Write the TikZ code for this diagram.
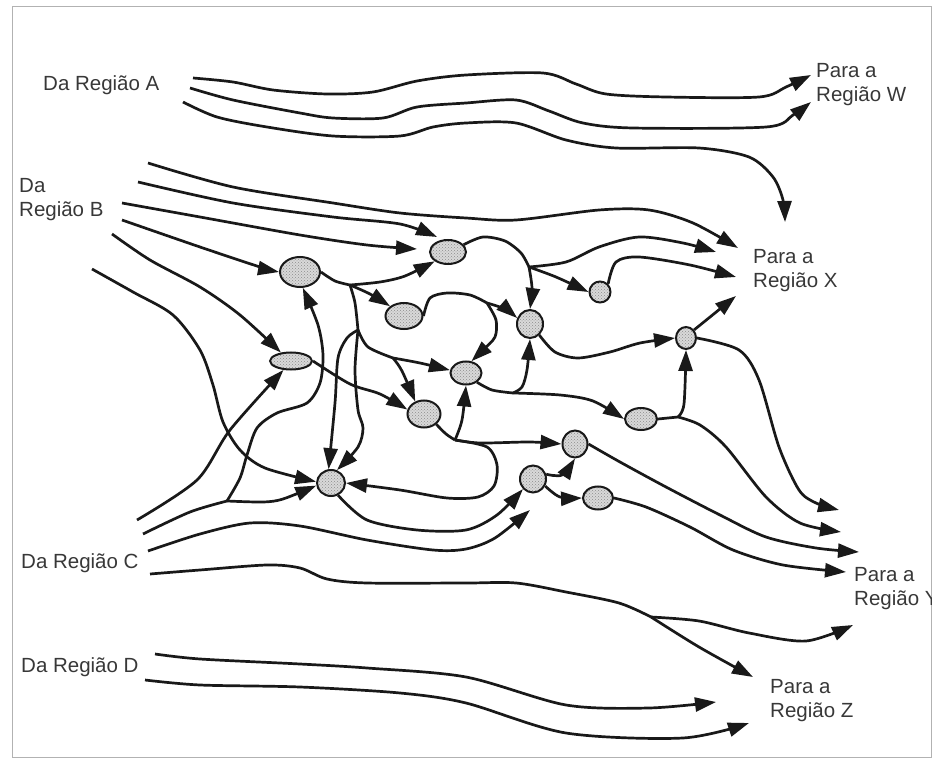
\documentclass[tikz,border=0pt]{standalone}
\usepackage{fontspec}
\setmainfont{Liberation Sans}
\usetikzlibrary{arrows.meta,shapes.geometric,patterns}
\begin{document}
\begin{tikzpicture}[x=1pt,y=-1pt,
  flow/.style={draw=black!90, line width=2.7pt, line join=round, -{Triangle[length=21pt,width=14pt]}},
  link/.style={draw=black!90, line width=2.7pt, line join=round},
  hub/.style={ellipse, draw=black!90, line width=2pt, inner sep=0pt,
    preaction={fill=gray!30}, pattern=crosshatch dots, pattern color=gray!90},
  lab/.style={font=\fontsize{20.5}{24}\selectfont, text=black!78, inner sep=0pt, align=left, anchor=west}]
\useasboundingbox (0,0) rectangle (932,759);
\draw[gray!60, line width=1pt] (12,7) rectangle (931,757);

% labels
\node[lab] (tA) at (43,85) {Da Região A};
\node[lab] (tB) at (19,200) {Da\\Região B};
\node[lab] (tC) at (21,563) {Da Região C};
\node[lab] (tD) at (21,667) {Da Região D};
\node[lab] (tW) at (816,85) {Para a\\Região W};
\node[lab] (tX) at (753,271) {Para a\\Região X};
\node[lab] (tY) at (854,589) {Para a\\Região Y};
\node[lab] (tZ) at (770,701) {Para a\\Região Z};

% hubs
\node[hub, minimum width=40pt, minimum height=30pt] (N1) at (300,272) {};
\node[hub, minimum width=36pt, minimum height=24pt] (N2) at (448,252) {};
\node[hub, minimum width=37pt, minimum height=26pt] (N3) at (404,316) {};
\node[hub, minimum width=42pt, minimum height=17pt] (N4) at (291,361) {};
\node[hub, minimum width=26pt, minimum height=28pt] (N5) at (530,324) {};
\node[hub, minimum width=21pt, minimum height=21pt] (N6) at (600,292) {};
\node[hub, minimum width=20pt, minimum height=22pt] (N7) at (686,338) {};
\node[hub, minimum width=31pt, minimum height=23pt] (N8) at (466,373) {};
\node[hub, minimum width=33pt, minimum height=27pt] (N9) at (424,414) {};
\node[hub, minimum width=32pt, minimum height=22pt] (N10) at (641,419) {};
\node[hub, minimum width=25pt, minimum height=27pt] (N11) at (575,444) {};
\node[hub, minimum width=26pt, minimum height=27pt] (N12) at (533,479) {};
\node[hub, minimum width=30pt, minimum height=23pt] (N13) at (598,498) {};
\node[hub, minimum width=28pt, minimum height=26pt] (N14) at (331,483) {};

% free ends and junctions
\coordinate (aS1) at (193,78); \coordinate (aS2) at (190,88); \coordinate (aS3) at (183,102);
\coordinate (wT1) at (811,75); \coordinate (wT2) at (811,102); \coordinate (xT0) at (785,222);
\coordinate (bS1) at (148,163); \coordinate (bS2) at (138,182); \coordinate (bS3) at (122,203);
\coordinate (bS4) at (122,220); \coordinate (bS5) at (112,234); \coordinate (bS6) at (92,269);
\coordinate (tB2) at (437,237); \coordinate (tB3) at (417,249);
\coordinate (xT1) at (738,248); \coordinate (xT2) at (716,252); \coordinate (xT3) at (736,277); \coordinate (xT4) at (736,296);
\coordinate (cS1) at (137,520); \coordinate (cS2) at (143,534); \coordinate (cS3) at (148,551); \coordinate (cS4) at (150,574);
\coordinate (tC3) at (530,510);
\coordinate (dS1) at (155,654); \coordinate (dS2) at (145,680);
\coordinate (yT1) at (839,510); \coordinate (yT2) at (841,532); \coordinate (yT3) at (859,552);
\coordinate (yT4) at (846,572); \coordinate (yT5) at (853,625);
\coordinate (zT1) at (716,702); \coordinate (zT2) at (749,723); \coordinate (zT3) at (753,677);
\coordinate (j1) at (350,285); \coordinate (j2) at (358,330); \coordinate (j3) at (393,358);
\coordinate (j4) at (529,267); \coordinate (j5) at (678,417); \coordinate (j6) at (513,393);
\coordinate (j7) at (487,303); \coordinate (j8) at (455,440); \coordinate (jC) at (227,501);
\coordinate (jY) at (651,617);

% region A
\draw[flow] plot[smooth] coordinates {(aS1) (233,82) (273,90) (327,94) (373,92) (417,81) (466,75) (543,73) (576,84) (606,94) (666,97) (759,97) (786,87) (wT1)};
\draw[flow] plot[smooth] coordinates {(aS2) (233,100) (300,113) (333,118) (383,118) (417,107) (466,103) (516,100) (549,111) (583,123) (633,128) (766,127) (793,115) (wT2)};
\draw[flow] plot[smooth] coordinates {(aS3) (217,117) (267,127) (333,136) (400,136) (433,127) (466,123) (516,123) (566,140) (616,148) (699,148) (749,157) (773,177) (783,200) (xT0)};

% region B
\draw[flow] plot[smooth] coordinates {(bS1) (233,187) (333,203) (400,213) (466,218) (516,220) (599,210) (649,210) (693,223) (xT1)};
\draw[flow] plot[smooth] coordinates {(bS2) (233,203) (333,217) (400,224) (tB2)};
\draw[flow] plot[smooth] coordinates {(bS3) (200,217) (300,235) (367,245) (tB3)};
\draw[flow] plot[smooth] coordinates {(bS4) (200,247) (260,267) (N1.west)};
\draw[flow] plot[smooth] coordinates {(bS5) (150,260) (200,287) (240,315) (N4.140)};
\draw[flow] plot[smooth] coordinates {(bS6) (133,292) (173,315) (200,350) (213,385) (223,422) (240,450) (265,468) (N14.175)};

% region C
\draw[flow] plot[smooth] coordinates {(cS1) (197,480) (230,430) (N4.230)};
\draw[link] plot[smooth] coordinates {(cS2) (190,512) (jC)};
\draw[flow] plot[smooth] coordinates {(jC) (263,502) (283,499) (N14.190)};
\draw[flow] plot[smooth] coordinates {(jC) (240,478) (247,455) (257,428) (277,413) (307,403) (320,383) (323,355) (318,325) (N1.280)};
\draw[flow] plot[smooth] coordinates {(cS3) (200,534) (250,523) (300,526) (367,540) (433,550) (466,549) (495,538) (tC3)};
\draw[link] plot[smooth] coordinates {(cS4) (200,570) (267,565) (300,568) (327,579) (367,583) (466,583) (516,583) (566,592) (619,603) (jY)};
\draw[flow] plot[smooth] coordinates {(jY) (699,647) (zT3)};
\draw[flow] plot[smooth] coordinates {(jY) (699,621) (749,633) (806,641) (yT5)};

% region D
\draw[flow] plot[smooth] coordinates {(dS1) (200,659) (300,664) (367,668) (466,677) (566,705) (649,708) (zT1)};
\draw[flow] plot[smooth] coordinates {(dS2) (200,685) (300,687) (400,693) (466,703) (566,733) (683,738) (zT2)};

% internal network
\draw[link] plot[smooth] coordinates {(N1.east) (335,281) (j1)};
\draw[flow] plot[smooth] coordinates {(j1) (380,282) (405,276) (N2.215)};
\draw[flow] plot[smooth] coordinates {(j1) (370,294) (N3.145)};
\draw[link] plot[smooth] coordinates {(j1) (355,303) (j2)};
\draw[flow] plot[smooth] coordinates {(j2) (347,338) (338,358) (335,403) (N14.100)};
\draw[flow] plot[smooth] coordinates {(j2) (355,370) (358,410) (363,428) (358,447) (N14.65)};
\draw[link] plot[smooth] coordinates {(j2) (368,347) (j3)};
\draw[flow] plot[smooth] coordinates {(j3) (420,363) (N8.170)};
\draw[flow] plot[smooth] coordinates {(j3) (402,371) (N9.125)};
\draw[flow] plot[smooth] coordinates {(N4.east) (350,384) (380,394) (N9.165)};

\draw[link] plot[smooth] coordinates {(N2.25) (483,237) (505,241) (521,253) (j4)};
\draw[flow] plot[smooth] coordinates {(j4) (532,288) (N5.north)};
\draw[flow] plot[smooth] coordinates {(j4) (556,277) (N6.west)};
\draw[flow] plot[smooth] coordinates {(j4) (566,262) (599,247) (639,237) (683,243) (xT2)};
\draw[flow] plot[smooth] coordinates {(N6.45) (616,262) (639,257) (690,265) (xT3)};
\draw[flow] (N7.45) -- (xT4);
\draw[flow] plot[smooth] coordinates {(N5.310) (555,352) (578,358) (610,352) (640,343) (N7.west)};
\draw[flow] plot[smooth] coordinates {(N7.east) (739,350) (759,380) (779,447) (799,490) (816,503) (yT1)};
\draw[link] (N10.east) -- (j5);
\draw[flow] plot[smooth] coordinates {(j5) (684,404) (N7.south)};
\draw[flow] plot[smooth] coordinates {(j5) (700,425) (726,447) (766,497) (800,523) (yT2)};

\draw[link] plot[smooth] coordinates {(N8.320) (492,390) (j6)};
\draw[flow] plot[smooth] coordinates {(j6) (522,387) (527,370) (N5.south)};
\draw[flow] plot[smooth] coordinates {(j6) (560,395) (593,401) (N10.west)};

\draw[link] plot[smooth] coordinates {(N3.east) (430,298) (447,293) (470,295) (j7)};
\draw[flow] plot[smooth] coordinates {(j7) (505,309) (N5.155)};
\draw[flow] plot[smooth] coordinates {(j7) (496,320) (495,337) (483,350) (N8.65)};

\draw[link] plot[smooth] coordinates {(N9.320) (446,434) (j8)};
\draw[flow] plot[smooth] coordinates {(j8) (462,420) (N8.south)};
\draw[flow] plot[smooth] coordinates {(j8) (480,443) (530,442) (N11.west)};
\draw[flow] plot[smooth] coordinates {(j8) (487,447) (497,465) (494,486) (478,497) (447,498) (400,490) (N14.east)};

\draw[flow] plot[smooth] coordinates {(N14.300) (367,520) (417,530) (466,530) (497,515) (N12.225)};
\draw[flow] plot[smooth] coordinates {(N12.20) (562,475) (N11.south)};
\draw[flow] plot[smooth] coordinates {(N12.330) (560,497) (N13.west)};
\draw[flow] plot[smooth] coordinates {(N11.east) (620,462) (666,487) (720,515) (766,537) (816,548) (yT3)};
\draw[flow] plot[smooth] coordinates {(N13.east) (646,507) (690,527) (733,550) (783,565) (yT4)};
\end{tikzpicture}
\end{document}
